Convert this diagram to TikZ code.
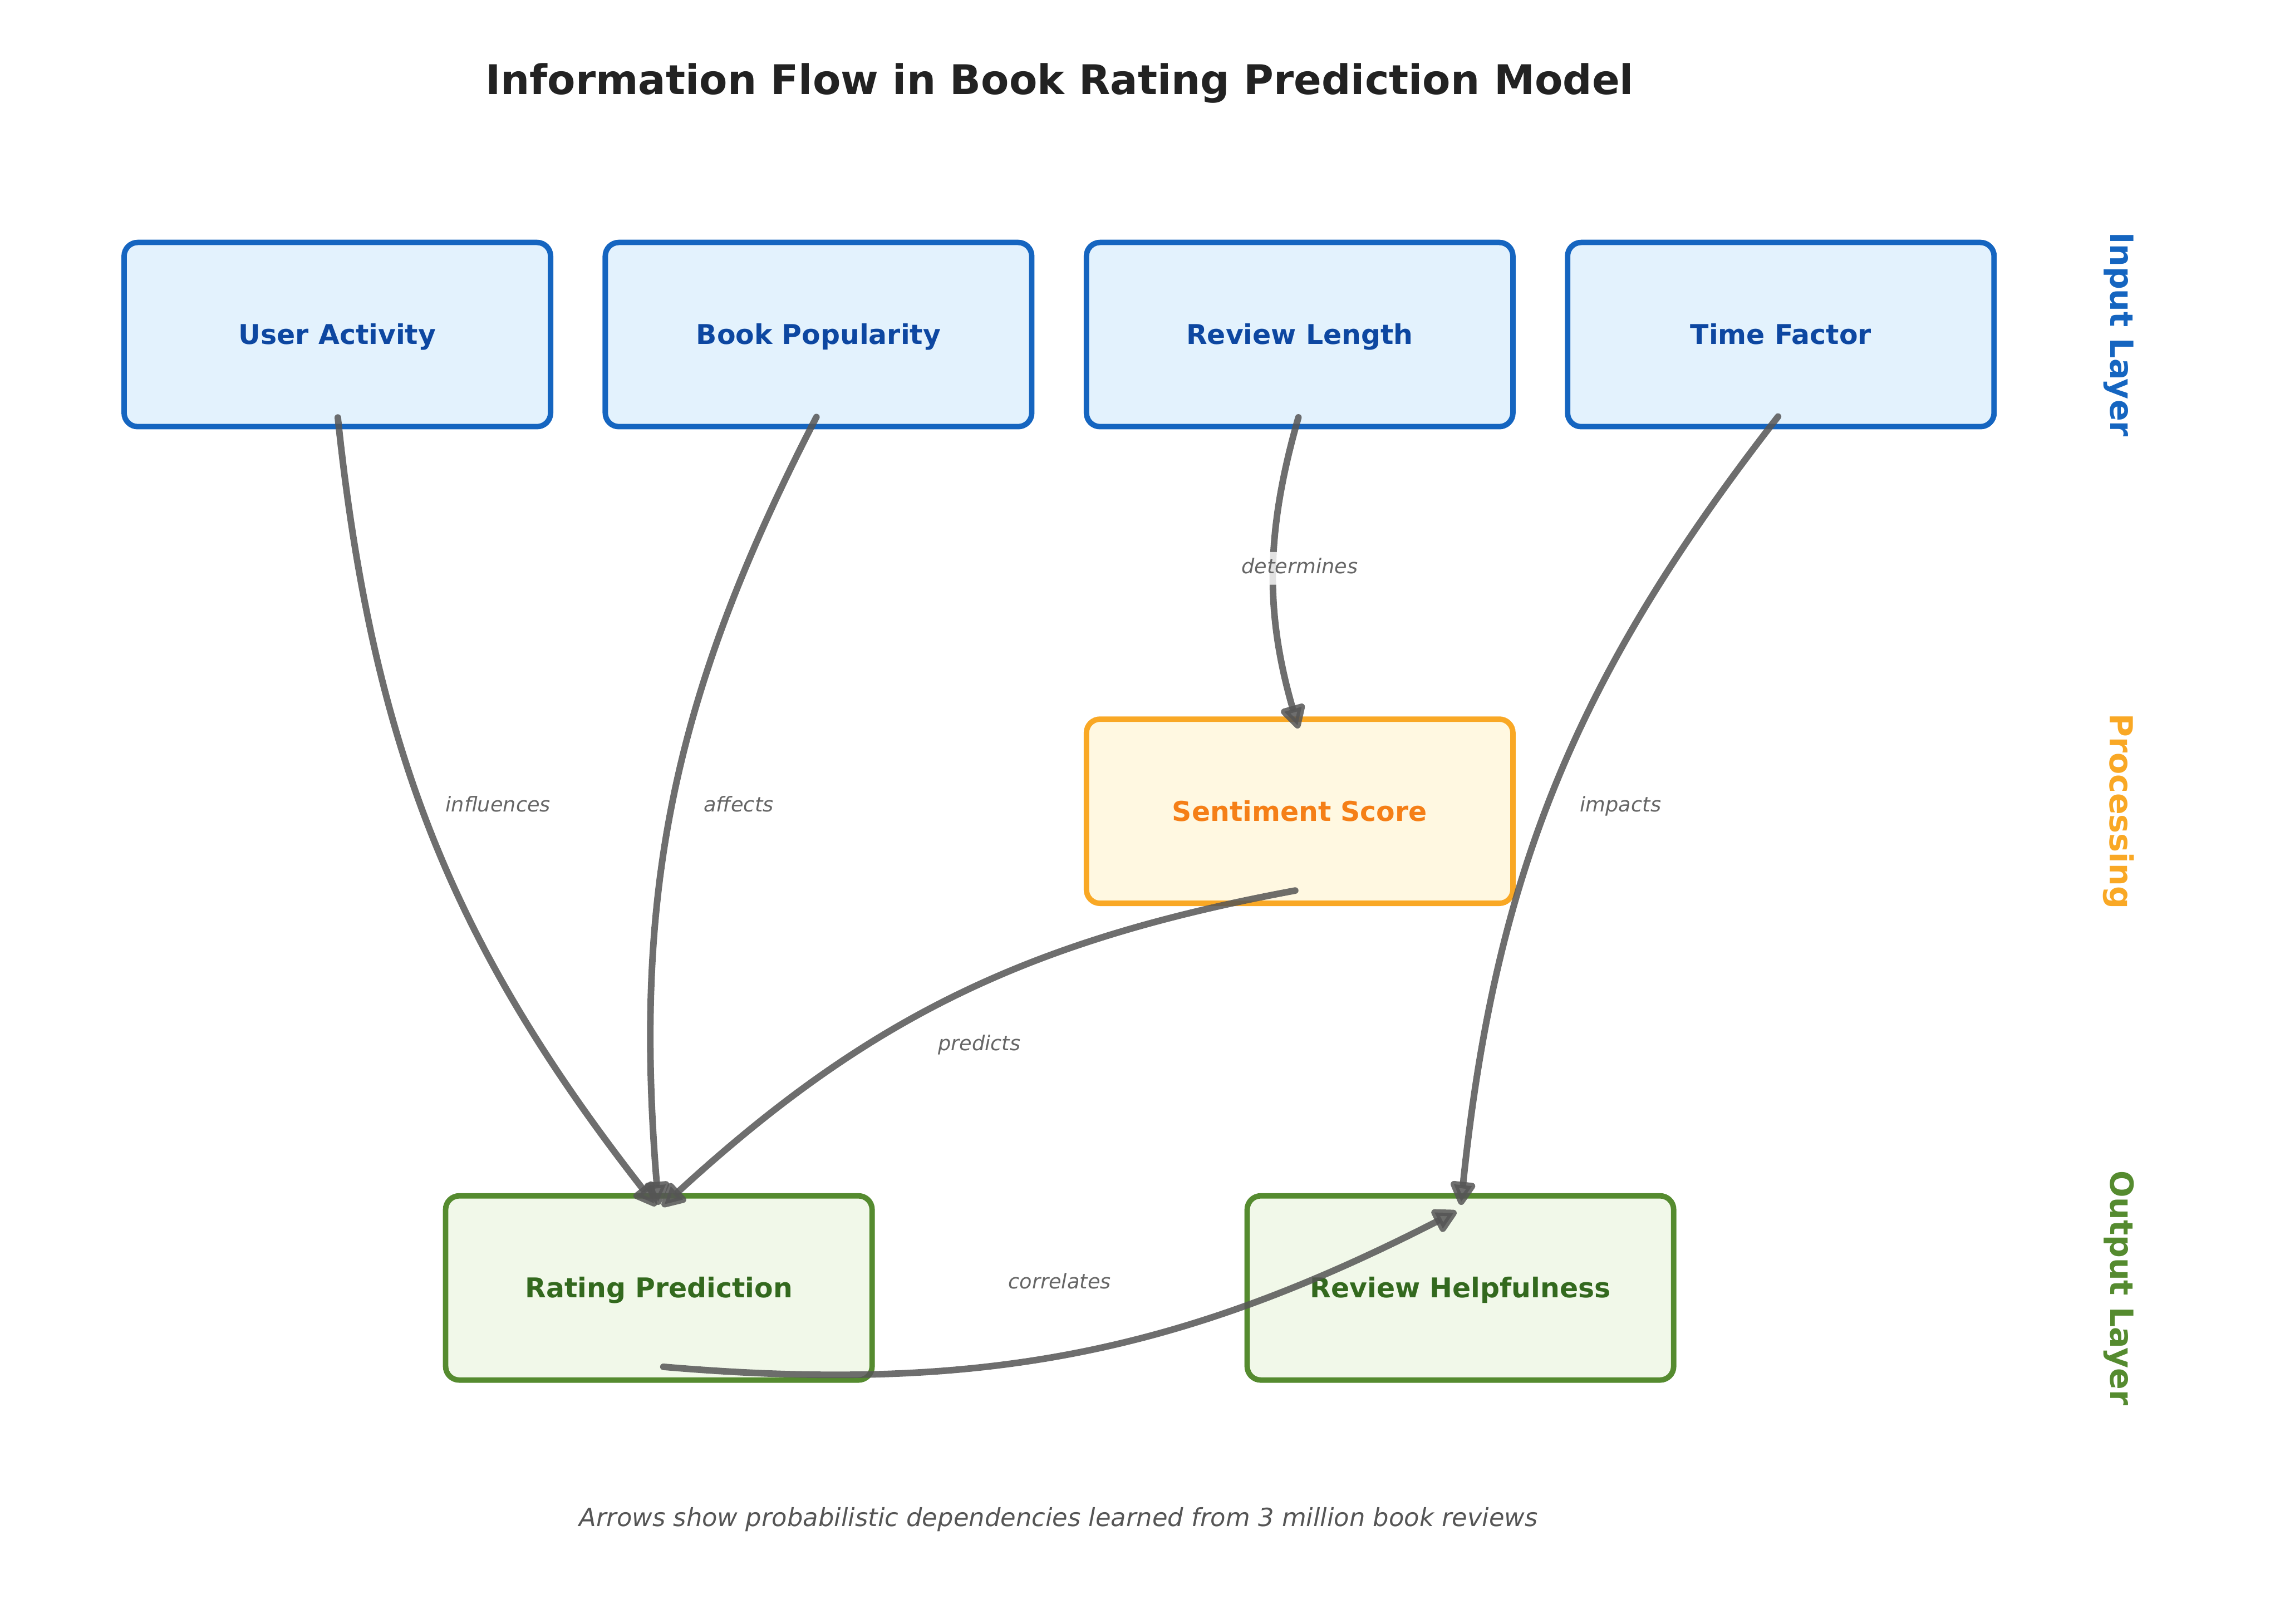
\documentclass[tikz,border=0pt]{standalone}
\usepackage{fontspec}
\setmainfont{DejaVu Sans}
\usetikzlibrary{arrows.meta,calc}

\definecolor{inEdge}{HTML}{1565C0}
\definecolor{inFill}{HTML}{E3F2FD}
\definecolor{inText}{HTML}{0D47A1}
\definecolor{procEdge}{HTML}{F9A825}
\definecolor{procFill}{HTML}{FFF8E1}
\definecolor{procText}{HTML}{F57F17}
\definecolor{outEdge}{HTML}{558B2F}
\definecolor{outFill}{HTML}{F1F8E9}
\definecolor{outText}{HTML}{33691E}
\definecolor{flowGray}{HTML}{555555}
\definecolor{lblGray}{HTML}{666666}
\definecolor{titleGray}{HTML}{222222}
\definecolor{noteGray}{HTML}{555555}

\tikzset{
  box/.style={draw, line width=2.4pt, rounded corners=6pt, outer sep=0pt,
    minimum width=6.604cm, minimum height=2.853cm,
    text height=10pt, text depth=1.4pt,
    font=\fontsize{12}{14}\selectfont\bfseries},
  inbox/.style={box, draw=inEdge, fill=inFill, text=inText},
  procbox/.style={box, draw=procEdge, fill=procFill, text=procText},
  outbox/.style={box, draw=outEdge, fill=outFill, text=outText},
  flow/.style={draw=flowGray, line width=2.9pt, opacity=0.85, line cap=round,
    shorten <=2pt, shorten >=2pt, -{Triangle[length=12pt,width=12pt,round]}},
  edgelbl/.style={font=\fontsize{9}{11}\selectfont\itshape, text=lblGray,
    fill=white, fill opacity=0.8, text opacity=1, inner sep=2.7pt,
    rounded corners=2pt, text height=6.8pt, text depth=2.2pt, yshift=2pt},
  layerlbl/.style={font=\fontsize{14}{17}\selectfont\bfseries, rotate=-90},
}

\begin{document}
\begin{tikzpicture}[x=0.8467cm, y=0.8467cm]
  \useasboundingbox (0,0) rectangle (41.70,29.70);

  % Title
  \node[font=\fontsize{18}{22}\selectfont\bfseries, text=titleGray] (title) at (19.38,28.18)
    {Information Flow in Book Rating Prediction Model};

  % Input layer
  \node[inbox] (ua) at (6.17,23.58) {User Activity};
  \node[inbox] (bp) at (14.97,23.58) {Book Popularity};
  \node[inbox] (rl) at (23.77,23.58) {Review Length};
  \node[inbox] (tf) at (32.57,23.58) {Time Factor};

  % Processing
  \node[procbox] (ss) at (23.77,14.86) {Sentiment Score};

  % Output layer
  \node[outbox] (rp) at (12.05,6.14) {Rating Prediction};
  \node[outbox] (rh) at (26.71,6.14) {Review Helpfulness};

  % Layer names
  \node[layerlbl, text=inEdge] (lin) at (38.75,23.58) {Input Layer};
  \node[layerlbl, text=procEdge] (lproc) at (38.75,14.86) {Processing};
  \node[layerlbl, text=outEdge] (lout) at (38.75,6.14) {Output Layer};

  % Dependencies
  \draw[flow] ([yshift=6pt]ua.south) to[bend right=16] ([yshift=-6pt]rp.north);
  \draw[flow] ([yshift=6pt]bp.south) to[bend right=16] ([yshift=-6pt]rp.north);
  \draw[flow] ([yshift=6pt]rl.south) to[bend right=16] ([yshift=-6pt]ss.north);
  \draw[flow] ([yshift=6pt]tf.south) to[bend right=16] ([yshift=-6pt]rh.north);
  \draw[flow] ([yshift=6pt]ss.south) to[bend right=16] ([yshift=-6pt]rp.north);
  \draw[flow] ([yshift=6pt]rp.south) to[bend right=16] ([yshift=-6pt]rh.north);

  % Dependency labels
  \node[edgelbl] (l-ua) at ($([yshift=6pt]ua.south)!0.5!([yshift=-6pt]rp.north)$) {influences};
  \node[edgelbl] (l-bp) at ($([yshift=6pt]bp.south)!0.5!([yshift=-6pt]rp.north)$) {affects};
  \node[edgelbl] (l-rl) at ($([yshift=6pt]rl.south)!0.5!([yshift=-6pt]ss.north)$) {determines};
  \node[edgelbl] (l-tf) at ($([yshift=6pt]tf.south)!0.5!([yshift=-6pt]rh.north)$) {impacts};
  \node[edgelbl] (l-ss) at ($([yshift=6pt]ss.south)!0.5!([yshift=-6pt]rp.north)$) {predicts};
  \node[edgelbl] (l-rp) at ($([yshift=6pt]rp.south)!0.5!([yshift=-6pt]rh.north)$) {correlates};

  % Note
  \node[font=\fontsize{11}{13}\selectfont\itshape, text=noteGray] (note) at (19.36,1.91)
    {Arrows show probabilistic dependencies learned from 3 million book reviews};
\end{tikzpicture}
\end{document}
